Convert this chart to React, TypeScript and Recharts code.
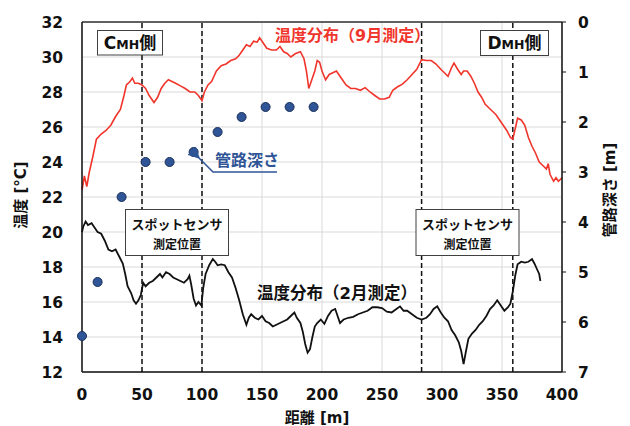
import React from "react";
import {
  CartesianGrid,
  ComposedChart,
  Line,
  ReferenceLine,
  Scatter,
  XAxis,
  YAxis,
} from "recharts";

// 温度分布（9月測定）
const septDist = [
  0, 2, 4, 6, 9, 12, 16, 20, 24, 28, 32, 35, 37, 40, 42, 44, 47, 50, 53, 56, 60, 63, 66, 69, 72, 75, 78, 82, 86, 90,
  94, 97, 100, 102, 105, 108, 112, 116, 120, 124, 128, 131, 134, 137, 140, 143, 146, 148, 151, 154, 158, 162, 165,
  168, 171, 174, 178, 182, 185, 187, 189, 191, 194, 196, 198, 200, 203, 206, 209, 212, 214, 217, 220, 224, 228, 232,
  236, 240, 244, 248, 252, 256, 259, 263, 267, 271, 275, 279, 283, 287, 291, 295, 299, 302, 305, 308, 310, 313, 316,
  318, 321, 324, 327, 330, 333, 336, 339, 342, 345, 348, 351, 354, 357, 359, 361, 363, 366, 369, 372, 375, 378, 381,
  384, 387, 388.5, 390, 393, 395, 397, 400,
];
const septTemp = [
  22.4, 23.2, 22.6, 23.4, 24.3, 25.3, 25.6, 25.8, 26.1, 26.6, 27.0, 27.8, 28.4, 28.6, 28.8, 28.5, 28.5, 28.4, 28.2,
  27.8, 27.4, 27.7, 28.2, 28.5, 28.7, 28.6, 28.5, 28.35, 28.2, 28.0, 28.0, 27.8, 27.5, 28.0, 28.4, 28.6, 29.2, 29.5,
  29.6, 29.8, 29.9, 30.1, 30.4, 30.7, 30.6, 30.9, 30.85, 31.1, 30.8, 30.5, 30.4, 30.4, 30.6, 30.3, 30.2, 30.0, 30.2,
  30.3, 29.9, 29.2, 28.2, 28.6, 29.2, 29.8, 29.7, 29.2, 28.7, 29.0, 29.1, 29.2, 29.0, 28.7, 28.4, 28.2, 28.2, 28.1,
  28.25, 28.0, 27.8, 27.6, 27.6, 27.7, 28.1, 28.3, 28.45, 28.7, 29.0, 29.3, 29.85, 29.8, 29.8, 29.6, 29.3, 29.1, 28.9,
  29.4, 29.65, 29.3, 29.0, 29.2, 29.2, 28.9, 28.5, 28.0, 27.7, 27.3, 27.1, 26.9, 26.7, 26.4, 26.1, 25.8, 25.4, 25.3,
  25.9, 26.5, 26.4, 26.1, 25.4, 24.9, 24.5, 24.0, 23.8, 23.6, 23.9, 23.3, 22.9, 23.1, 22.9, 23.1,
];

// 温度分布（2月測定）
const febDist = [
  0, 1, 3, 5, 8, 10, 13, 16, 19, 22, 25, 28, 31, 34, 36, 38, 41, 43, 45, 47, 49, 51, 53, 56, 59, 62, 65, 67, 70, 73,
  76, 79, 82, 85, 88, 89.5, 91, 93, 95, 97, 99.5, 101, 103, 106, 109, 111, 113, 116, 119, 122, 125, 128, 131, 134,
  137, 139, 141, 144, 147, 150, 153, 156, 159, 162, 165, 168, 171, 174, 177, 179, 182, 184, 186, 188, 190, 192, 194,
  196, 199, 202, 205, 208, 211, 213, 215, 218, 222, 226, 230, 234, 238, 242, 246, 250, 254, 258, 262, 265, 268, 271,
  275, 279, 283, 287, 290, 293, 296, 299, 302, 305, 308, 311, 314, 316, 318, 320, 322, 325, 328, 331, 334, 337, 340,
  343, 346, 349, 352, 355, 357, 359, 361, 363, 366, 369, 372, 375, 377, 379, 381, 382,
];
const febTemp = [
  20.0, 20.3, 20.6, 20.4, 20.5, 20.3, 20.0, 19.9, 19.5, 19.0, 18.9, 19.0, 18.6, 18.2, 17.6, 16.9, 16.5, 16.1, 15.9,
  16.1, 16.4, 17.1, 16.9, 17.1, 17.2, 17.4, 17.6, 17.4, 17.7, 17.6, 17.4, 17.3, 17.2, 17.1, 17.3, 17.5, 17.0, 16.2,
  15.8, 16.0, 15.8, 16.8, 17.6, 18.1, 18.45, 18.3, 18.1, 18.15, 18.1, 17.7, 17.4, 16.8, 16.1, 15.3, 14.7, 15.1, 15.3,
  15.1, 15.0, 15.2, 14.9, 14.8, 14.6, 14.7, 14.8, 14.9, 15.0, 15.2, 15.4, 15.1, 14.8, 14.3, 13.6, 13.1, 13.3, 14.0,
  14.6, 14.8, 15.0, 14.75, 15.2, 15.5, 15.6, 15.2, 14.8, 15.0, 15.1, 15.15, 15.3, 15.4, 15.5, 15.7, 15.7, 15.65,
  15.45, 15.4, 15.6, 15.75, 15.5, 15.5, 15.3, 15.1, 15.0, 15.1, 15.3, 15.6, 15.75, 15.4, 15.1, 14.9, 14.4, 14.1,
  13.7, 13.2, 12.45, 13.2, 13.9, 14.2, 14.4, 14.7, 14.9, 15.2, 15.6, 15.8, 16.1, 15.8, 15.5, 15.7, 15.9, 16.6, 17.5,
  18.15, 18.3, 18.25, 18.3, 18.45, 18.2, 17.9, 17.6, 17.2,
];

// 管路深さ
const depthDist = [0, 13, 33, 53, 73, 93, 113, 133, 153, 173, 193];
const depthVal = [6.28, 5.2, 3.5, 2.8, 2.8, 2.6, 2.2, 1.9, 1.7, 1.7, 1.7];

const xTicks = [0, 50, 100, 150, 200, 250, 300, 350, 400];
const tempTicks = [12, 14, 16, 18, 20, 22, 24, 26, 28, 30, 32];
const depthTicks = [0, 1, 2, 3, 4, 5, 6, 7];
const sensorLines = [50, 100, 283, 359];

const septData = septDist.map((d, i) => ({ d, t: septTemp[i] }));
const febData = febDist.map((d, i) => ({ d, t: febTemp[i] }));
const depthData = depthDist.map((d, i) => ({ d, depth: depthVal[i] }));

const FONT = "'DejaVu Sans', 'Noto Sans CJK JP', sans-serif";
const tickStyle = { fill: "#111", fontSize: 15.5, fontWeight: 700, fontFamily: FONT };
const RED = "#F0352C";
const BLUE = "#2F5597";

const Dot = (p: any) => <circle cx={p.cx} cy={p.cy} r={4.5} fill={BLUE} stroke="#1A2F5A" strokeWidth={1} />;

function Notes() {
  const bold = { fontFamily: FONT, fontWeight: 700 };
  return (
    <svg width={630} height={426} style={{ position: "absolute", left: 0, top: 0, pointerEvents: "none" }}>
      <defs>
        <marker id="ah" markerWidth="8" markerHeight="8" refX="1" refY="4" orient="auto-start-reverse">
          <path d="M8,0 L0,4 L8,8 Z" fill={BLUE} />
        </marker>
      </defs>
      {/* axis titles */}
      <text x={21} y={195} transform="rotate(-90 21 195)" textAnchor="middle" dominantBaseline="central" fontSize={15} style={bold} fill="#111">
        温度 [°C]
      </text>
      <text x={610} y={190} transform="rotate(-90 610 190)" textAnchor="middle" dominantBaseline="central" fontSize={15} style={bold} fill="#111">
        管路深さ [m]
      </text>
      <text x={317} y={418} textAnchor="middle" dominantBaseline="central" fontSize={15} style={bold} fill="#111">
        距離 [m]
      </text>

      {/* manhole boxes */}
      <rect x={97.5} y={30.5} width={65} height={24.5} fill="#fff" stroke="#404040" />
      <text x={130} y={49} textAnchor="middle" style={bold} fill="#111">
        <tspan fontSize={17}>C</tspan>
        <tspan fontSize={12.5}>MH</tspan>
        <tspan fontSize={17}>側</tspan>
      </text>
      <rect x={480.5} y={30.5} width={68} height={25} fill="#fff" stroke="#404040" />
      <text x={514.5} y={49} textAnchor="middle" style={bold} fill="#111">
        <tspan fontSize={17}>D</tspan>
        <tspan fontSize={12.5}>MH</tspan>
        <tspan fontSize={17}>側</tspan>
      </text>

      {/* series labels */}
      <text x={275} y={35} dominantBaseline="central" fontSize={16} style={bold} fill={RED}>
        温度分布（9月測定）
      </text>
      <text x={257} y={293} dominantBaseline="central" fontSize={16.5} style={bold} fill="#111">
        温度分布（2月測定）
      </text>
      <text x={215} y={160} dominantBaseline="central" fontSize={16} style={bold} fill={BLUE}>
        管路深さ
      </text>
      <polyline points="277,172 213,172 199,158" fill="none" stroke={BLUE} strokeWidth={1.5} markerEnd="url(#ah)" />

      {/* spot sensor boxes */}
      {[125.5, 416].map((x) => (
        <g key={x}>
          <rect x={x} y={209.5} width={103} height={46} fill="#fff" stroke="#404040" />
          <text x={x + 51.5} y={224} textAnchor="middle" dominantBaseline="central" fontSize={13} style={bold} fill="#111">
            スポットセンサ
          </text>
          <text x={x + 51.5} y={245} textAnchor="middle" dominantBaseline="central" fontSize={12} style={bold} fill="#111">
            測定位置
          </text>
        </g>
      ))}
    </svg>
  );
}

export default function App() {
  return (
    <div style={{ position: "absolute", left: 0, top: 0, width: 630, height: 426, background: "#fff" }}>
      <ComposedChart width={630} height={426} margin={{ top: 22, right: 18, bottom: 24, left: 32 }}>
        <CartesianGrid yAxisId="temp" stroke="#d9d9d9" strokeWidth={1} />
        <XAxis
          type="number"
          dataKey="d"
          domain={[0, 400]}
          ticks={xTicks}
          height={30}
          tickLine={false}
          tickMargin={11}
          axisLine={{ stroke: "#111", strokeWidth: 1.5 }}
          tick={tickStyle}
        />
        <YAxis
          yAxisId="temp"
          domain={[12, 32]}
          ticks={tempTicks}
          width={50}
          tickLine={false}
          tickMargin={13}
          axisLine={{ stroke: "#111", strokeWidth: 1.5 }}
          tick={tickStyle}
        />
        <YAxis
          yAxisId="depth"
          orientation="right"
          domain={[0, 7]}
          reversed
          ticks={depthTicks}
          width={50}
          tickSize={4}
          tickMargin={12}
          tickLine={{ stroke: "#111" }}
          axisLine={{ stroke: "#111", strokeWidth: 1.5 }}
          tick={tickStyle}
        />
        <ReferenceLine yAxisId="temp" y={32} stroke="#333" strokeWidth={1.5} />
        {sensorLines.map((x) => (
          <ReferenceLine key={x} yAxisId="temp" x={x} stroke="#111" strokeWidth={1.5} strokeDasharray="5 3" />
        ))}
        <Line
          yAxisId="temp"
          data={febData}
          dataKey="t"
          type="linear"
          dot={false}
          stroke="#111"
          strokeWidth={1.8}
          isAnimationActive={false}
        />
        <Line
          yAxisId="temp"
          data={septData}
          dataKey="t"
          type="linear"
          dot={false}
          stroke={RED}
          strokeWidth={1.6}
          isAnimationActive={false}
        />
        <Scatter yAxisId="depth" data={depthData} dataKey="depth" shape={Dot} isAnimationActive={false} />
      </ComposedChart>
      <Notes />
    </div>
  );
}
